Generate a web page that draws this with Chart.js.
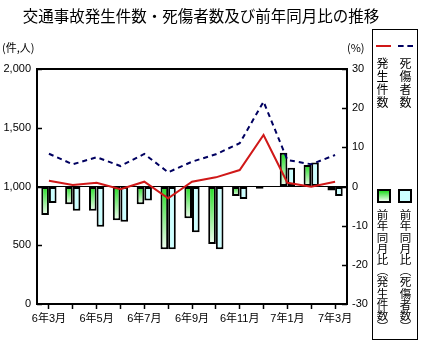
<!DOCTYPE html>
<html lang="ja">
<head>
<meta charset="utf-8">
<script src="https://cdn.jsdelivr.net/npm/chart.js@4"></script>
<style>
  html, body { margin: 0; padding: 0; background: #fff; }
  #wrap { position: relative; width: 437px; height: 360px; overflow: hidden; }
  #chart { position: absolute; left: 0; top: 0; }
  .legend-box { position: absolute; left: 372px; top: 29px; width: 46px; height: 311px; border: 1px solid #000; box-sizing: border-box; }
  .vtext { position: absolute; writing-mode: vertical-rl; font: 12px "Noto Sans CJK JP", sans-serif; line-height: 1; color: #000; }
  .swatch { position: absolute; width: 14px; height: 14px; box-sizing: border-box; border: 2px solid #000; }
  .key-line { position: absolute; width: 15px; height: 0; }
</style>
</head>
<body>
<div id="wrap">
  <canvas id="chart" width="437" height="360"></canvas>
  <div class="legend-box"></div>
  <div class="key-line" style="left:376px; top:45px; border-top:2.5px solid #d01818;"></div>
  <div class="key-line" style="left:398px; top:45px; border-top:2.5px dashed #000060;"></div>
  <div class="vtext" style="left:376px; top:57px; letter-spacing:1px;">発生件数</div>
  <div class="vtext" style="left:399px; top:57px; letter-spacing:1px;">死傷者数</div>
  <div class="swatch" style="left:377px; top:189px; background:linear-gradient(#22dd22,#f2fff2);"></div>
  <div class="swatch" style="left:398px; top:189px; background:#ccffff;"></div>
  <div class="vtext" style="left:376px; top:209px; font-size:11.5px; letter-spacing:-0.3px;">前年同月比（発生件数）</div>
  <div class="vtext" style="left:399px; top:209px; font-size:11.5px; letter-spacing:-0.3px;">前年同月比（死傷者数）</div>
</div>
<script>
const categories = ["6年3月", "6年4月", "6年5月", "6年6月", "6年7月", "6年8月", "6年9月",
  "6年10月", "6年11月", "6年12月", "7年1月", "7年2月", "7年3月"];
// 件数 / 人数 (left axis)
const accidents = [1049, 1013, 1032, 976, 1041, 900, 1041, 1078, 1140, 1438, 1032, 998, 1041];
const casualties = [1279, 1189, 1249, 1174, 1277, 1121, 1211, 1274, 1368, 1722, 1226, 1189, 1268];
// 前年同月比 % (right axis)
const accidentsYoY = [-7.3, -4.5, -6.2, -8.6, -4.5, -16.0, -8.1, -14.7, -2.4, -0.6, 8.6, 5.5, -1.0];
const casualtiesYoY = [-4.2, -6.2, -10.3, -9.0, -3.6, -16.0, -11.7, -16.0, -3.2, 0, 4.8, 6.1, -2.4];

const TITLE = "交通事故発生件数・死傷者数及び前年同月比の推移";
const NUM_FONT = '"Liberation Sans", Arial, "Noto Sans CJK JP", sans-serif';
const JP_FONT = '"Noto Sans CJK JP", sans-serif';

function greenGradient(ctx) {
  const chart = ctx.chart;
  if (!chart.chartArea || ctx.dataIndex == null) return "#22dd22";
  const yS = chart.scales.y1;
  const v = ctx.dataset.data[ctx.dataIndex];
  const a = yS.getPixelForValue(0);
  const b = yS.getPixelForValue(v);
  const top = Math.min(a, b);
  const bot = Math.max(a, b);
  if (bot - top < 1) return "#22dd22";
  const g = chart.ctx.createLinearGradient(0, top, 0, bot);
  g.addColorStop(0, "#22dd22");
  g.addColorStop(1, "#f2fff2");
  return g;
}

// frame, inward y ticks, title and unit labels
const decorPlugin = {
  id: "decor",
  afterDraw(chart) {
    const { ctx, chartArea: a } = chart;
    ctx.save();
    ctx.strokeStyle = "#000";
    ctx.lineWidth = 1.5;
    chart.scales.y.ticks.forEach((t) => {
      const y = Math.round(chart.scales.y.getPixelForValue(t.value)) + 0.5;
      ctx.beginPath(); ctx.moveTo(a.left, y); ctx.lineTo(a.left + 5, y); ctx.stroke();
    });
    chart.scales.y1.ticks.forEach((t) => {
      const y = Math.round(chart.scales.y1.getPixelForValue(t.value)) + 0.5;
      ctx.beginPath(); ctx.moveTo(a.right - 5, y); ctx.lineTo(a.right, y); ctx.stroke();
    });
    ctx.lineWidth = 2;
    ctx.strokeRect(a.left, a.top, a.right - a.left, a.bottom - a.top);

    ctx.fillStyle = "#000";
    ctx.textBaseline = "middle";
    ctx.font = "15.5px " + JP_FONT;
    ctx.textAlign = "center";
    ctx.fillText(TITLE, 201, 16);
    ctx.font = "11px " + JP_FONT;
    ctx.textAlign = "left";
    ctx.fillText("(件,人)", 2, 48);
    ctx.fillText("(%)", 347, 48);
    ctx.restore();
  },
};

new Chart(document.getElementById("chart"), {
  data: {
    labels: categories,
    datasets: [
      {
        type: "line",
        label: "発生件数",
        data: accidents,
        yAxisID: "y",
        borderColor: "#d01818",
        borderWidth: 2,
        pointRadius: 0,
        tension: 0,
        order: 0,
      },
      {
        type: "line",
        label: "死傷者数",
        data: casualties,
        yAxisID: "y",
        borderColor: "#000060",
        borderWidth: 2,
        borderDash: [5, 4],
        pointRadius: 0,
        tension: 0,
        order: 0,
      },
      {
        type: "bar",
        label: "前年同月比（発生件数）",
        data: accidentsYoY,
        yAxisID: "y1",
        backgroundColor: greenGradient,
        borderColor: "#000",
        borderWidth: 2,
        borderSkipped: false,
        categoryPercentage: 0.64,
        barPercentage: 1,
        order: 1,
      },
      {
        type: "bar",
        label: "前年同月比（死傷者数）",
        data: casualtiesYoY,
        yAxisID: "y1",
        backgroundColor: "#ccffff",
        borderColor: "#000",
        borderWidth: 2,
        borderSkipped: false,
        categoryPercentage: 0.64,
        barPercentage: 1,
        order: 1,
      },
    ],
  },
  plugins: [decorPlugin],
  options: {
    responsive: false,
    animation: false,
    devicePixelRatio: 1,
    layout: { padding: { left: 0, right: 60, top: 69, bottom: 36 } },
    plugins: {
      legend: { display: false },
      tooltip: { enabled: false },
    },
    scales: {
      x: {
        offset: true,
        afterFit: (s) => { s.height = 20; },
        grid: {
          offset: false,
          drawOnChartArea: false,
          drawTicks: true,
          tickLength: 5,
          tickColor: "#000",
          tickWidth: 1.5,
        },
        border: { display: false },
        ticks: {
          autoSkip: false,
          maxRotation: 0,
          padding: 3,
          color: "#000",
          font: { family: NUM_FONT, size: 11 },
          callback: (v, i) => (i % 2 ? "" : categories[i]),
        },
      },
      y: {
        position: "left",
        min: 0,
        max: 2000,
        afterFit: (s) => { s.width = 37; },
        grid: {
          drawTicks: false,
          color: (c) => (c.tick && c.tick.value === 1000 ? "#000" : "rgba(0,0,0,0)"),
          lineWidth: 1,
        },
        border: { display: false },
        ticks: {
          stepSize: 500,
          padding: 6,
          color: "#000",
          font: { family: NUM_FONT, size: 11 },
          callback: (v) => v.toLocaleString("en-US"),
        },
      },
      y1: {
        position: "right",
        min: -30,
        max: 30,
        afterFit: (s) => { s.width = 30; },
        grid: { drawOnChartArea: false, drawTicks: false },
        border: { display: false },
        ticks: {
          stepSize: 10,
          padding: 5,
          color: "#000",
          font: { family: NUM_FONT, size: 11 },
        },
      },
    },
  },
});
</script>
</body>
</html>
